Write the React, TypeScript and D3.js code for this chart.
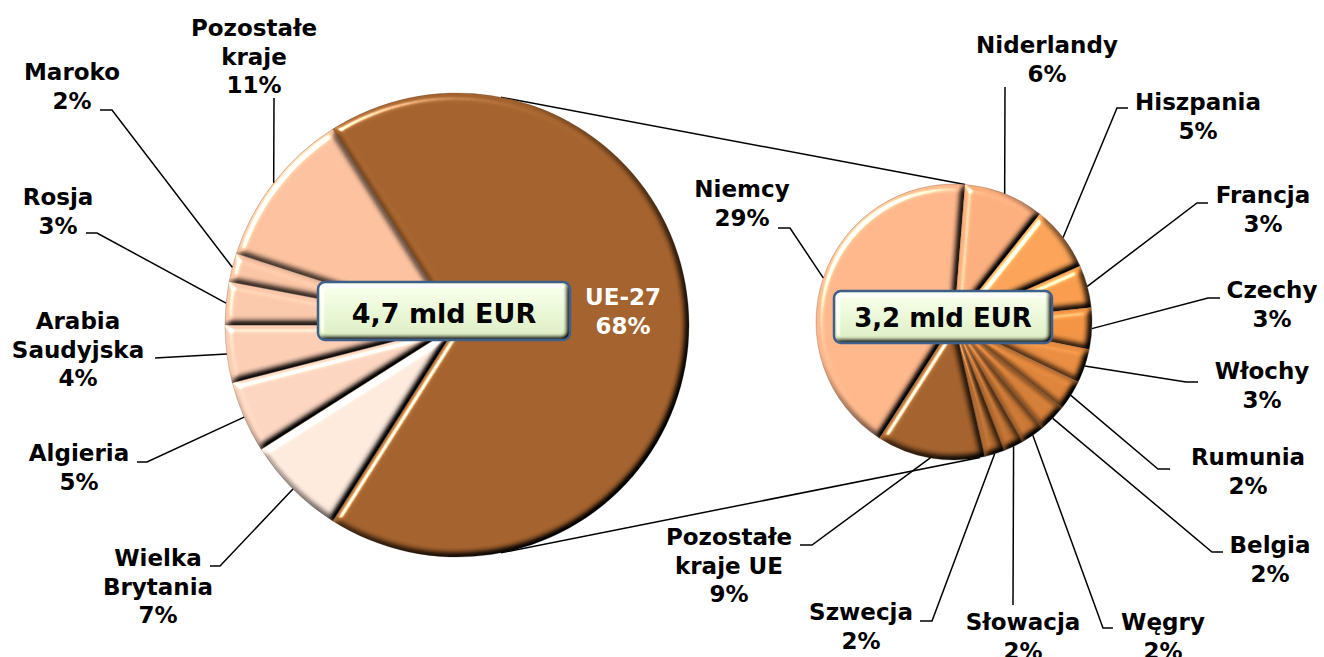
import React from 'react';
import * as d3 from 'd3';

// ---------- DATA ----------
const primaryLabels = ['UE-27', 'Wielka\nBrytania', 'Algieria', 'Arabia\nSaudyjska', 'Rosja', 'Maroko', 'Pozostałe\nkraje'];
const primaryValues = [68, 7, 5, 4, 3, 2, 11];
const primaryPct = ['68%', '7%', '5%', '4%', '3%', '2%', '11%'];

const secondaryLabels = ['Niemcy', 'Niderlandy', 'Hiszpania', 'Francja', 'Czechy', 'Włochy', 'Rumunia', 'Belgia', 'Węgry', 'Słowacja', 'Szwecja', 'Pozostałe\nkraje UE'];
const secondaryValues = [28.7, 6.4, 5.2, 3.4, 3.3, 2.7, 2.4, 2.2, 1.9, 1.6, 1.6, 8.6];
const secondaryPct = ['29%', '6%', '5%', '3%', '3%', '3%', '2%', '2%', '2%', '2%', '2%', '9%'];

const totalLabels = ['4,7 mld EUR', '3,2 mld EUR'];

// ---------- STYLE / LAYOUT ----------
const primaryColors = ['#A3612C', '#FDE8DC', '#FBD4BF', '#FACCB2', '#F9C7A9', '#F9C4A4', '#FBC19E'];
const secondaryColors = ['#FCB68A', '#FAAE7C', '#F9A257', '#F89B4B', '#F29343', '#E88C40', '#DD843B', '#D27D37', '#C77634', '#BC6F31', '#B26A2F', '#A3612C'];

const P = { cx: 457, cy: 325, r: 232 };
const S = { cx: 954, cy: 322, r: 138 };
const secondaryFirstEndDeg = 4.6;

// label layout: x center, first baseline y, leader anchor (ax, ay), horizontal stub
const primaryLabelPos = [
  { x: 623, y: 305, inside: true },
  { x: 158, y: 566, ax: 210, ay: 566, stub: 10 },
  { x: 79, y: 461, ax: 137, ay: 462, stub: 10 },
  { x: 78, y: 329, ax: 155, ay: 358, stub: 0 },
  { x: 58, y: 205, ax: 86, ay: 233, stub: 11 },
  { x: 72, y: 80, ax: 100, ay: 110, stub: 12 },
  { x: 254, y: 36, ax: 274, ay: 98, stub: 0 },
];
const secondaryLabelPos = [
  { x: 742, y: 197, ax: 778, ay: 228, stub: 12 },
  { x: 1047, y: 53, ax: 1005, ay: 87, stub: 0 },
  { x: 1198, y: 110, ax: 1128, ay: 108, stub: -11 },
  { x: 1263, y: 203, ax: 1208, ay: 203, stub: -11 },
  { x: 1272, y: 298, ax: 1220, ay: 298, stub: -12 },
  { x: 1262, y: 379, ax: 1198, ay: 382, stub: -12 },
  { x: 1248, y: 465, ax: 1170, ay: 469, stub: -12 },
  { x: 1270, y: 553, ax: 1223, ay: 552, stub: -11 },
  { x: 1163, y: 630, ax: 1113, ay: 628, stub: -10 },
  { x: 1023, y: 630, ax: 1013, ay: 605, stub: 0 },
  { x: 861, y: 620, ax: 920, ay: 621, stub: 12 },
  { x: 729, y: 545, ax: 800, ay: 545, stub: 12 },
];

const boxes = [
  { x: 318, y: 282, w: 252, h: 58, fs: 27, base: 323 },
  { x: 834, y: 291, w: 218, h: 52, fs: 26, base: 327 },
];

const FONT = "'DejaVu Sans', Verdana, sans-serif";
const FS = 23;
const LH = 28.5;

const deg = (d: number) => (d * Math.PI) / 180;
const rim = (c: { cx: number; cy: number; r: number }, a: number): [number, number] => [
  c.cx + c.r * Math.sin(a),
  c.cy - c.r * Math.cos(a),
];

function Label({ x, y, lines, fill = '#000' }: { x: number; y: number; lines: string[]; fill?: string }) {
  return (
    <text x={x} y={y} textAnchor="middle" fontFamily={FONT} fontWeight="bold" fontSize={FS} fill={fill}>
      {lines.map((l, i) => (
        <tspan key={i} x={x} dy={i === 0 ? 0 : LH}>
          {l}
        </tspan>
      ))}
    </text>
  );
}

export default function App() {
  const pSum = d3.sum(primaryValues);
  const pStart = Math.PI / 2 - (Math.PI * primaryValues[0]) / pSum;
  const pie1 = d3.pie<number>().sort(null).startAngle(pStart).endAngle(pStart + 2 * Math.PI);
  const pArcs = pie1(primaryValues);

  const sSum = d3.sum(secondaryValues);
  const sStart = deg(secondaryFirstEndDeg) - (2 * Math.PI * secondaryValues[0]) / sSum;
  const pie2 = d3.pie<number>().sort(null).startAngle(sStart).endAngle(sStart + 2 * Math.PI);
  const sArcs = pie2(secondaryValues);

  const arc1 = d3.arc<d3.PieArcDatum<number>>().innerRadius(0).outerRadius(P.r);
  const arc2 = d3.arc<d3.PieArcDatum<number>>().innerRadius(0).outerRadius(S.r);

  // connector lines (external tangents of the two circles)
  const dist = Math.hypot(S.cx - P.cx, S.cy - P.cy);
  const phi = Math.asin((P.r - S.r) / dist);
  const topL = rim(P, phi);
  const topR = rim(S, deg(secondaryFirstEndDeg));
  const botL = rim(P, Math.PI - phi);
  const botR = rim(S, Math.PI - phi);

  const leader = (
    c: { cx: number; cy: number; r: number },
    a: d3.PieArcDatum<number>,
    pos: any
  ) => {
    const mid = (a.startAngle + a.endAngle) / 2;
    const [rx, ry] = rim(c, mid);
    const pts: [number, number][] = [[pos.ax, pos.ay]];
    if (pos.stub) pts.push([pos.ax + pos.stub, pos.ay]);
    pts.push([rx, ry]);
    return d3.line()(pts) as string;
  };

  return (
    <svg width={1324} height={657} style={{ position: 'absolute', left: 0, top: 0, display: 'block', background: '#fff' }}>
      <defs>
        <filter id="bevel" x="-10%" y="-10%" width="120%" height="120%" colorInterpolationFilters="sRGB">
          <feGaussianBlur in="SourceAlpha" stdDeviation="3.5" result="blur" />
          <feDiffuseLighting in="blur" surfaceScale="6" diffuseConstant="1.3" lightingColor="#ffffff" result="diff">
            <feDistantLight azimuth="225" elevation="50" />
          </feDiffuseLighting>
          <feComposite in="SourceGraphic" in2="diff" operator="arithmetic" k1="1" k2="0" k3="0" k4="0" result="shaded" />
          <feSpecularLighting in="blur" surfaceScale="6" specularConstant="1.0" specularExponent="30" lightingColor="#ffffff" result="spec">
            <feDistantLight azimuth="225" elevation="30" />
          </feSpecularLighting>
          <feComposite in="spec" in2="SourceAlpha" operator="in" result="specIn" />
          <feComposite in="shaded" in2="specIn" operator="arithmetic" k1="0" k2="1" k3="1" k4="0" />
        </filter>
        <filter id="boxBevel" x="-10%" y="-20%" width="120%" height="140%" colorInterpolationFilters="sRGB">
          <feGaussianBlur in="SourceAlpha" stdDeviation="2.5" result="blur" />
          <feDiffuseLighting in="blur" surfaceScale="4" diffuseConstant="1.3" lightingColor="#ffffff" result="diff">
            <feDistantLight azimuth="225" elevation="50" />
          </feDiffuseLighting>
          <feComposite in="SourceGraphic" in2="diff" operator="arithmetic" k1="1" k2="0" k3="0" k4="0" result="shaded" />
          <feSpecularLighting in="blur" surfaceScale="4" specularConstant="0.8" specularExponent="25" lightingColor="#ffffff" result="spec">
            <feDistantLight azimuth="225" elevation="35" />
          </feSpecularLighting>
          <feComposite in="spec" in2="SourceAlpha" operator="in" result="specIn" />
          <feComposite in="shaded" in2="specIn" operator="arithmetic" k1="0" k2="1" k3="1" k4="0" />
        </filter>
        <linearGradient id="boxFill" x1="0" y1="0" x2="0" y2="1">
          <stop offset="0" stopColor="#F1F8E6" />
          <stop offset="0.5" stopColor="#E2EFCF" />
          <stop offset="1" stopColor="#D3E4BA" />
        </linearGradient>
      </defs>

      {/* connector lines */}
      <line x1={topL[0]} y1={topL[1]} x2={topR[0]} y2={topR[1]} stroke="#000" strokeWidth={1.5} />
      <line x1={botL[0]} y1={botL[1]} x2={botR[0]} y2={botR[1]} stroke="#000" strokeWidth={1.5} />

      {/* primary pie */}
      <g transform={`translate(${P.cx},${P.cy})`}>
        {pArcs.map((a, i) => (
          <path key={i} d={arc1(a) as string} fill={primaryColors[i]} stroke="#6b4a35" strokeOpacity={0.35} strokeWidth={0.8} filter="url(#bevel)" />
        ))}
      </g>

      {/* secondary pie */}
      <g transform={`translate(${S.cx},${S.cy})`}>
        {sArcs.map((a, i) => (
          <path key={i} d={arc2(a) as string} fill={secondaryColors[i]} stroke="#6b4a35" strokeOpacity={0.35} strokeWidth={0.8} filter="url(#bevel)" />
        ))}
      </g>

      {/* leader lines */}
      {pArcs.map((a, i) =>
        primaryLabelPos[i].inside ? null : (
          <path key={'pl' + i} d={leader(P, a, primaryLabelPos[i])} fill="none" stroke="#000" strokeWidth={1.5} />
        )
      )}
      {sArcs.map((a, i) => (
        <path key={'sl' + i} d={leader(S, a, secondaryLabelPos[i])} fill="none" stroke="#000" strokeWidth={1.5} />
      ))}

      {/* total boxes */}
      {boxes.map((b, i) => (
        <g key={'b' + i}>
          <rect x={b.x} y={b.y} width={b.w} height={b.h} rx={7} fill="url(#boxFill)" filter="url(#boxBevel)" />
          <rect x={b.x} y={b.y} width={b.w} height={b.h} rx={7} fill="none" stroke="#3E5F8A" strokeWidth={2.5} />
          <text x={b.x + b.w / 2} y={b.base} textAnchor="middle" fontFamily={FONT} fontWeight="bold" fontSize={b.fs} fill="#000">
            {totalLabels[i]}
          </text>
        </g>
      ))}

      {/* labels */}
      {primaryLabels.map((l, i) => (
        <Label
          key={'pt' + i}
          x={primaryLabelPos[i].x}
          y={primaryLabelPos[i].y}
          lines={[...l.split('\n'), primaryPct[i]]}
          fill={primaryLabelPos[i].inside ? '#fff' : '#000'}
        />
      ))}
      {secondaryLabels.map((l, i) => (
        <Label key={'st' + i} x={secondaryLabelPos[i].x} y={secondaryLabelPos[i].y} lines={[...l.split('\n'), secondaryPct[i]]} />
      ))}
    </svg>
  );
}
